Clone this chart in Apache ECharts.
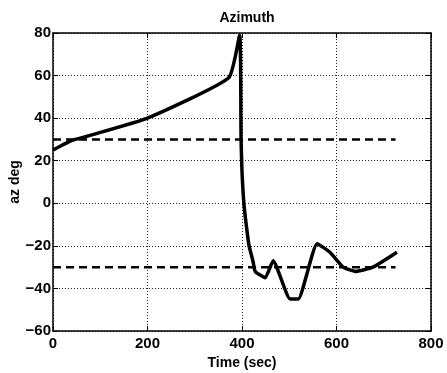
<!DOCTYPE html>
<html>
<head>
<meta charset="utf-8">
<script src="https://cdn.jsdelivr.net/npm/echarts@6/dist/echarts.min.js"></script>
<style>
  html, body { margin: 0; padding: 0; background: #fff; }
  #main { width: 447px; height: 373px; }
</style>
</head>
<body>
<div id="main"></div>
<script>
// 数据
var timeSec = [0, 40, 72, 200, 372, 395, 398, 400, 404, 410, 415, 423, 428, 449, 466, 502, 519, 559, 586, 614, 640, 677, 728];
var azDeg   = [25, 29.5, 31.5, 40, 59, 79, 30, 15, 0, -12, -20, -27, -32, -35, -27, -45, -45, -19, -23, -30, -32, -30, -23];
var limitTime = [0, 725];
var upperLimit = [30, 30];
var lowerLimit = [-30, -30];

function pairs(xs, ys) {
    return xs.map(function (x, i) { return [x, ys[i]]; });
}

var myChart = echarts.init(document.getElementById('main'));

var fontBase = { fontFamily: 'Liberation Sans', fontWeight: 'bold', color: '#000' };
var axisLine = { show: true, onZero: false, lineStyle: { color: '#000', width: 1.5 } };
var gridLine = { show: true, lineStyle: { color: '#222', type: [1, 2], width: 1 } };

var option = {
    backgroundColor: '#fff',
    animation: false,
    title: {
        text: 'Azimuth',
        left: 242, top: 6, textAlign: 'center',
        textStyle: { fontFamily: 'Liberation Sans', fontWeight: 'bold', fontSize: 14, color: '#000' }
    },
    grid: { left: 53, right: 16, top: 33, bottom: 42, outerBoundsMode: 'none', containLabel: false },
    xAxis: [{
        type: 'value', min: 0, max: 800, interval: 200,
        name: 'Time (sec)', nameLocation: 'middle', nameGap: 23,
        nameTextStyle: Object.assign({ fontSize: 14 }, fontBase),
        axisLine: axisLine,
        axisTick: { inside: true, length: 5, lineStyle: { color: '#000' } },
        axisLabel: Object.assign({ fontSize: 15, margin: 5 }, fontBase),
        splitLine: gridLine
    }, {
        type: 'value', min: 0, max: 800, interval: 200, position: 'top',
        axisLine: axisLine,
        axisTick: { inside: true, length: 5, lineStyle: { color: '#000' } },
        axisLabel: { show: false },
        splitLine: { show: false }
    }],
    yAxis: [{
        type: 'value', min: -60, max: 80, interval: 20,
        name: 'az deg', nameLocation: 'middle', nameGap: 31, nameRotate: 90,
        nameMoveOverlap: false,
        nameTextStyle: Object.assign({ fontSize: 14 }, fontBase),
        axisLine: axisLine,
        axisTick: { inside: true, length: 5, lineStyle: { color: '#000' } },
        axisLabel: Object.assign({
            fontSize: 15, margin: 2,
            formatter: function (v) { return String(v).replace('-', '\u2212'); }
        }, fontBase),
        splitLine: gridLine
    }, {
        type: 'value', min: -60, max: 80, interval: 20, position: 'right',
        axisLine: axisLine,
        axisTick: { inside: true, length: 5, lineStyle: { color: '#000' } },
        axisLabel: { show: false },
        splitLine: { show: false }
    }],
    series: [{
        name: 'az',
        type: 'line',
        data: pairs(timeSec, azDeg),
        showSymbol: false,
        smooth: 0.15,
        lineStyle: { color: '#000', width: 3.5 }
    }, {
        name: 'upper',
        type: 'line',
        data: pairs(limitTime, upperLimit),
        showSymbol: false,
        lineStyle: { color: '#000', width: 2.5, type: [8, 5] }
    }, {
        name: 'lower',
        type: 'line',
        data: pairs(limitTime, lowerLimit),
        showSymbol: false,
        lineStyle: { color: '#000', width: 2.5, type: [8, 5] }
    }]
};

myChart.setOption(option);
</script>
</body>
</html>
